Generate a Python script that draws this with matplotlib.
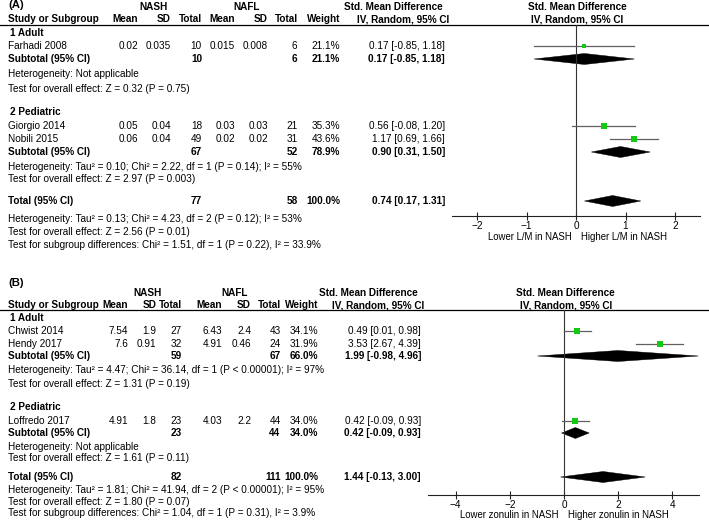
import matplotlib
matplotlib.use('Agg')
import matplotlib.pyplot as plt
from matplotlib.patches import Polygon

plt.rcParams['font.family'] = ['Liberation Sans', 'DejaVu Sans']
plt.rcParams['axes.unicode_minus'] = True

# ---------------- DATA: panel A (L/M) ----------------
A_studies = ["Farhadi 2008", "Giorgio 2014", "Nobili 2015"]
A_group = [0, 1, 1]
A_nash_mean = [0.02, 0.05, 0.06]
A_nash_sd = [0.035, 0.04, 0.04]
A_nash_n = [10, 18, 49]
A_nafl_mean = [0.015, 0.03, 0.02]
A_nafl_sd = [0.008, 0.03, 0.02]
A_nafl_n = [6, 21, 31]
A_weight = [21.1, 35.3, 43.6]
A_smd = [0.17, 0.56, 1.17]
A_lo = [-0.85, -0.08, 0.69]
A_hi = [1.18, 1.20, 1.66]
A_sub_names = ["1 Adult", "2 Pediatric"]
A_sub_nash_n = [10, 67]
A_sub_nafl_n = [6, 52]
A_sub_weight = [21.1, 78.9]
A_sub_smd = [0.17, 0.90]
A_sub_lo = [-0.85, 0.31]
A_sub_hi = [1.18, 1.50]
A_sub_het = ["Heterogeneity: Not applicable",
             "Heterogeneity: Tau\u00b2 = 0.10; Chi\u00b2 = 2.22, df = 1 (P = 0.14); I\u00b2 = 55%"]
A_sub_z = ["Test for overall effect: Z = 0.32 (P = 0.75)",
           "Test for overall effect: Z = 2.97 (P = 0.003)"]
A_tot_nash_n = 77
A_tot_nafl_n = 58
A_tot_weight = 100.0
A_tot_smd = 0.74
A_tot_lo = 0.17
A_tot_hi = 1.31
A_tot_het = "Heterogeneity: Tau\u00b2 = 0.13; Chi\u00b2 = 4.23, df = 2 (P = 0.12); I\u00b2 = 53%"
A_tot_z = "Test for overall effect: Z = 2.56 (P = 0.01)"
A_tot_sub = "Test for subgroup differences: Chi\u00b2 = 1.51, df = 1 (P = 0.22), I\u00b2 = 33.9%"
A_xticks = [-2, -1, 0, 1, 2]
A_labels = ["Lower L/M in NASH", "Higher L/M in NASH"]

# ---------------- DATA: panel B (zonulin) ----------------
B_studies = ["Chwist 2014", "Hendy 2017", "Loffredo 2017"]
B_group = [0, 0, 1]
B_nash_mean = [7.54, 7.6, 4.91]
B_nash_sd = [1.9, 0.91, 1.8]
B_nash_n = [27, 32, 23]
B_nafl_mean = [6.43, 4.91, 4.03]
B_nafl_sd = [2.4, 0.46, 2.2]
B_nafl_n = [43, 24, 44]
B_weight = [34.1, 31.9, 34.0]
B_smd = [0.49, 3.53, 0.42]
B_lo = [0.01, 2.67, -0.09]
B_hi = [0.98, 4.39, 0.93]
B_sub_names = ["1 Adult", "2 Pediatric"]
B_sub_nash_n = [59, 23]
B_sub_nafl_n = [67, 44]
B_sub_weight = [66.0, 34.0]
B_sub_smd = [1.99, 0.42]
B_sub_lo = [-0.98, -0.09]
B_sub_hi = [4.96, 0.93]
B_sub_het = ["Heterogeneity: Tau\u00b2 = 4.47; Chi\u00b2 = 36.14, df = 1 (P < 0.00001); I\u00b2 = 97%",
             "Heterogeneity: Not applicable"]
B_sub_z = ["Test for overall effect: Z = 1.31 (P = 0.19)",
           "Test for overall effect: Z = 1.61 (P = 0.11)"]
B_tot_nash_n = 82
B_tot_nafl_n = 111
B_tot_weight = 100.0
B_tot_smd = 1.44
B_tot_lo = -0.13
B_tot_hi = 3.00
B_tot_het = "Heterogeneity: Tau\u00b2 = 1.81; Chi\u00b2 = 41.94, df = 2 (P < 0.00001); I\u00b2 = 95%"
B_tot_z = "Test for overall effect: Z = 1.80 (P = 0.07)"
B_tot_sub = "Test for subgroup differences: Chi\u00b2 = 1.04, df = 1 (P = 0.31), I\u00b2 = 3.9%"
B_xticks = [-4, -2, 0, 2, 4]
B_labels = ["Lower zonulin in NASH", "Higher zonulin in NASH"]

# ---------------- LAYOUT ----------------
W, H = 709, 528
FS = 7.2
AXFS = 6.9
GREEN = '#14c814'
fig = plt.figure(figsize=(W / 100, H / 100), dpi=100)
bg = fig.add_axes([0, 0, 1, 1])
bg.set_xlim(0, W)
bg.set_ylim(H, 0)
bg.axis('off')


def txt(x, y, s, ha='left', bold=False, size=FS):
    bg.text(x, y, s, ha=ha, va='center', fontsize=size,
            fontweight='bold' if bold else 'normal', color='black')


def panel(tag, d, L):
    # titles / headers
    txt(8, L['title'], tag, bold=True, size=8.2)
    txt(L['nash_c'], L['h1'], "NASH", ha='center', bold=True)
    txt(L['nafl_c'], L['h1'], "NAFL", ha='center', bold=True)
    txt(L['smd1_c'], L['h1'], "Std. Mean Difference", ha='center', bold=True)
    txt(L['smd2_c'], L['h1'], "Std. Mean Difference", ha='center', bold=True)
    txt(L['iv1_c'], L['h2'], "IV, Random, 95% CI", ha='center', bold=True)
    txt(L['iv2_c'], L['h2'], "IV, Random, 95% CI", ha='center', bold=True)
    txt(8, L['h2'], "Study or Subgroup", bold=True)
    cols = L['cols']
    for name, key in [("Mean", 'm1'), ("SD", 's1'), ("Total", 'n1'),
                      ("Mean", 'm2'), ("SD", 's2'), ("Total", 'n2'), ("Weight", 'w')]:
        txt(cols[key] + L['hdr_dx'].get(key, 0), L['h2'], name, ha='right', bold=True)
    bg.plot([0, W], [L['line'], L['line']], color='black', lw=0.9)

    # forest axes
    x0, x1 = L['fx']
    yt, yb = L['line'], L['axis']
    ax = fig.add_axes([x0 / W, 1 - yb / H, (x1 - x0) / W, (yb - yt) / H])
    ax.set_xlim(*L['xlim'])
    ax.set_ylim(yb, yt)
    ax.patch.set_alpha(0)
    for sp in ['top', 'left', 'right']:
        ax.spines[sp].set_visible(False)
    ax.spines['bottom'].set_linewidth(0.8)
    ax.spines['bottom'].set_color('#222222')
    ax.set_yticks([])
    ax.set_xticks(d['xticks'])
    ax.tick_params(axis='x', direction='inout', length=6, width=0.8,
                   labelsize=AXFS + 0.3, pad=0.5, color='#222222')
    ax.axvline(0, color='#333333', lw=0.8)

    ys = iter(L['rows'])
    half = 5.5

    def diamond(y, e, lo, hi):
        ax.add_patch(Polygon([[lo, y], [e, y - half], [hi, y], [e, y + half]],
                             closed=True, facecolor='black', edgecolor='black', lw=0.3))

    for g in range(2):
        y = next(ys)
        txt(9.5, y, d['sub_names'][g], bold=True)
        for i in range(len(d['studies'])):
            if d['group'][i] != g:
                continue
            y = next(ys)
            txt(8, y, d['studies'][i])
            txt(cols['m1'], y, f"{d['nash_mean'][i]:g}", ha='right')
            txt(cols['s1'], y, f"{d['nash_sd'][i]:g}", ha='right')
            txt(cols['n1'], y, f"{d['nash_n'][i]}", ha='right')
            txt(cols['m2'], y, f"{d['nafl_mean'][i]:g}", ha='right')
            txt(cols['s2'], y, f"{d['nafl_sd'][i]:g}", ha='right')
            txt(cols['n2'], y, f"{d['nafl_n'][i]}", ha='right')
            txt(cols['w'], y, f"{d['weight'][i]:.1f}%", ha='right')
            txt(cols['e'], y, f"{d['smd'][i]:.2f} [{d['lo'][i]:.2f}, {d['hi'][i]:.2f}]", ha='right')
            ax.plot([d['lo'][i], d['hi'][i]], [y, y], color='#606060', lw=0.9, zorder=2)
            side = 0.95 * d['weight'][i] ** 0.5
            ax.plot([d['smd'][i]], [y], marker='s', linestyle='none',
                    markersize=side * 0.72, color=GREEN, markeredgewidth=0, zorder=3)
        y = next(ys)
        txt(8, y, "Subtotal (95% CI)", bold=True)
        txt(cols['n1'], y, f"{d['sub_nash_n'][g]}", ha='right', bold=True)
        txt(cols['n2'], y, f"{d['sub_nafl_n'][g]}", ha='right', bold=True)
        txt(cols['w'], y, f"{d['sub_weight'][g]:.1f}%", ha='right', bold=True)
        txt(cols['e'], y, f"{d['sub_smd'][g]:.2f} [{d['sub_lo'][g]:.2f}, {d['sub_hi'][g]:.2f}]",
            ha='right', bold=True)
        diamond(y, d['sub_smd'][g], d['sub_lo'][g], d['sub_hi'][g])
        txt(8, next(ys), d['sub_het'][g])
        txt(8, next(ys), d['sub_z'][g])

    y = next(ys)
    txt(8, y, "Total (95% CI)", bold=True)
    txt(cols['n1'], y, f"{d['tot_nash_n']}", ha='right', bold=True)
    txt(cols['n2'], y, f"{d['tot_nafl_n']}", ha='right', bold=True)
    txt(cols['w'], y, f"{d['tot_weight']:.1f}%", ha='right', bold=True)
    txt(cols['e'], y, f"{d['tot_smd']:.2f} [{d['tot_lo']:.2f}, {d['tot_hi']:.2f}]",
        ha='right', bold=True)
    diamond(y, d['tot_smd'], d['tot_lo'], d['tot_hi'])
    txt(8, next(ys), d['tot_het'])
    txt(8, next(ys), d['tot_z'])
    txt(8, next(ys), d['tot_sub'])

    zero_px = x0 + (0 - L['xlim'][0]) / (L['xlim'][1] - L['xlim'][0]) * (x1 - x0)
    txt(zero_px - L['lab_gap'][0], L['labels_y'], d['labels'][0], ha='right', size=AXFS)
    txt(zero_px + L['lab_gap'][1], L['labels_y'], d['labels'][1], ha='left', size=AXFS)


def pack(p):
    g = globals()
    keys = ['studies', 'group', 'nash_mean', 'nash_sd', 'nash_n', 'nafl_mean', 'nafl_sd',
            'nafl_n', 'weight', 'smd', 'lo', 'hi', 'sub_names', 'sub_nash_n', 'sub_nafl_n',
            'sub_weight', 'sub_smd', 'sub_lo', 'sub_hi', 'sub_het', 'sub_z', 'tot_nash_n',
            'tot_nafl_n', 'tot_weight', 'tot_smd', 'tot_lo', 'tot_hi', 'tot_het', 'tot_z',
            'tot_sub', 'xticks', 'labels']
    return {k: g[p + '_' + k] for k in keys}


LA = dict(title=5, h1=6.5, h2=19.5, line=25, axis=216,
          nash_c=154, nafl_c=247, smd1_c=393, smd2_c=577, iv1_c=403, iv2_c=577,
          cols=dict(m1=138, s1=171, n1=202, m2=235, s2=268, n2=297.5, w=340, e=445),
          hdr_dx=dict(m1=-0.5, n2=0.5),
          fx=(452.25, 699.75), xlim=(-2.5, 2.5),
          rows=[33, 46, 59, 74, 88.5, 112, 126, 139, 152, 166.5, 179.5, 201, 218.5, 232, 245],
          labels_y=237.5, lab_gap=(4, 5))
LB = dict(title=283, h1=293, h2=305, line=310, axis=495,
          nash_c=147, nafl_c=235, smd1_c=368, smd2_c=565, iv1_c=378, iv2_c=566,
          cols=dict(m1=128, s1=156.5, n1=182, m2=222, s2=251, n2=280.5, w=318, e=421),
          hdr_dx=dict(s1=0.5, n2=0.5),
          fx=(428.5, 699.5), xlim=(-5, 5),
          rows=[318, 331, 344, 356, 370, 384, 407.5, 421, 433, 447, 458, 477, 490, 502, 513],
          labels_y=515.5, lab_gap=(5, 4))

panel("(A)", pack('A'), LA)
panel("(B)", pack('B'), LB)

fig.savefig('out.png', dpi=100)
